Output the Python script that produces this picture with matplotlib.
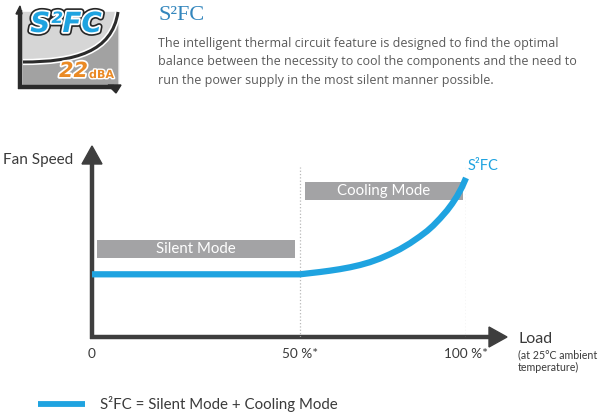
import matplotlib
matplotlib.use("Agg")
import matplotlib.pyplot as plt
import matplotlib.patheffects as pe
from matplotlib.patches import Polygon, Rectangle, PathPatch
from matplotlib.path import Path
from matplotlib.lines import Line2D
import numpy as np

# S²FC fan curve: relative fan speed (0-100) against PSU load (%)
load = [0, 50, 53.0, 56.0, 59.0, 62.0, 65.1, 68.1, 71.1, 74.1, 77.1, 80.1,
        83.1, 86.1, 88.3, 90.1, 92.2, 94.3, 95.8, 97.3, 98.8, 100]
fan_speed = [33, 33, 33.6, 34.2, 34.9, 35.7, 36.7, 37.9, 39.4, 41.3, 43.6, 46.2,
             49.3, 52.9, 55.8, 58.6, 62.4, 66.6, 70.1, 74.1, 78.9, 83.7]

tick_loads = [0, 50, 100]
tick_labels = ["0", "50 %*", "100 %*"]

mode_names = ["Silent Mode", "Cooling Mode"]
mode_load_from = [1.2, 51.5]
mode_load_to = [48.8, 99.0]
mode_speed_low = [41.6, 72.1]
mode_speed_high = [51.1, 81.6]

title = "S²FC"
paragraph = [
    "The intelligent thermal circuit feature is designed to find the optimal",
    "balance between the necessity to cool the components and the need to",
    "run the power supply in the most silent manner possible.",
]
legend_label = "S²FC = Silent Mode + Cooling Mode"

BLUE = "#1fa3e0"
GREY_BOX = "#a3a3a5"
AXIS = "#3e3e3e"
TEXT = "#3a3a3a"
CHART_FONT = "Lato"

W, H = 600, 415
fig = plt.figure(figsize=(6, 4.15), dpi=100)
fig.patch.set_facecolor("white")

# pixel-space layer for the header, logo and axis arrows
bg = fig.add_axes([0, 0, 1, 1])
bg.set_xlim(0, W)
bg.set_ylim(H, 0)
bg.axis("off")

# ---- logo badge -------------------------------------------------------
bg.add_patch(Rectangle((22, 12), 96, 75, color="#d6d6d6", zorder=1))
curve = Path([(23, 62), (75, 62), (112, 52), (118, 12)],
             [Path.MOVETO, Path.CURVE4, Path.CURVE4, Path.CURVE4])
under = Path([(23, 62), (75, 62), (112, 52), (118, 12), (118, 87), (23, 87), (23, 62)],
             [Path.MOVETO, Path.CURVE4, Path.CURVE4, Path.CURVE4,
              Path.LINETO, Path.LINETO, Path.CLOSEPOLY])
bg.add_patch(PathPatch(under, facecolor="#a2a2a2", edgecolor="none", zorder=2))
bg.add_patch(PathPatch(curve, facecolor="none", edgecolor="white", lw=4.5, zorder=3))
bg.add_patch(PathPatch(curve, facecolor="none", edgecolor="#2b2b2b", lw=2.2, zorder=4))
bg.plot([20, 20], [10, 89], color="#2b2b2b", lw=3.2, solid_capstyle="butt", zorder=5)
bg.add_patch(Polygon([(16, 14), (20, 6), (22, 14)], color="#2b2b2b", zorder=5))
bg.plot([18, 114], [87.5, 87.5], color="#2b2b2b", lw=3.2, solid_capstyle="butt", zorder=5)
bg.add_patch(Polygon([(108, 85), (121, 85), (116, 93)], color="#2b2b2b", zorder=5))
bg.text(66, 24, "S²FC", fontsize=20, fontweight="bold", style="italic",
        family="DejaVu Sans", color=BLUE, ha="center", va="center", zorder=6,
        path_effects=[pe.Stroke(linewidth=5, foreground="#262626"),
                      pe.Stroke(linewidth=2.6, foreground="white"), pe.Normal()])
bg.text(88, 71, "22", fontsize=15, fontweight="bold", style="italic",
        family="DejaVu Sans", color="#ea8a25", ha="right", va="center", zorder=6,
        path_effects=[pe.withStroke(linewidth=2.5, foreground="white")])
bg.text(89, 75, "dBA", fontsize=8, fontweight="bold",
        family="DejaVu Sans", color="#ea8a25", ha="left", va="center", zorder=6,
        path_effects=[pe.withStroke(linewidth=2, foreground="white")])

# ---- header text ------------------------------------------------------
bg.text(158, 15, title, fontsize=16, family="Liberation Serif", color="#3386bd",
        ha="left", va="center")
for i, line in enumerate(paragraph):
    bg.text(158, 43 + i * 18.7, line, fontsize=9.0, family="Open Sans",
            color="#5a5a5a", ha="left", va="center")

# ---- chart axes -------------------------------------------------------
x0, x1, ybot, ytop = 92, 466, 337, 147
ax = fig.add_axes([x0 / W, (H - ybot) / H, (x1 - x0) / W, (ybot - ytop) / H])
ax.patch.set_alpha(0)


def fwd(x):
    x = np.asarray(x, float)
    return np.where(x <= 50, x * 208 / 50, 208 + (x - 50) * 166 / 50)


def inv(p):
    p = np.asarray(p, float)
    return np.where(p <= 208, p * 50 / 208, 50 + (p - 208) * 50 / 166)


ax.set_xscale("function", functions=(fwd, inv))
ax.set_xlim(0, 100)
ax.set_ylim(0, 100)
for s in ax.spines.values():
    s.set_visible(False)
ax.set_yticks([])
ax.set_xticks(tick_loads, tick_labels)
ax.tick_params(axis="x", length=0, pad=8, labelsize=9.8, labelcolor=TEXT)
for lab in ax.get_xticklabels():
    lab.set_family(CHART_FONT)

# dotted guides at the mode boundary and full load
for xv in tick_loads[1:]:
    ax.axvline(xv, ymin=0, ymax=0.895, color="#b8b8b8", lw=0.9, ls=":", zorder=1)

# mode bands
for name, lo, hi, slo, shi in zip(mode_names, mode_load_from, mode_load_to,
                                  mode_speed_low, mode_speed_high):
    ax.add_patch(Rectangle((lo, slo), hi - lo, shi - slo, facecolor=GREY_BOX,
                           edgecolor="none", zorder=2))
    xm = inv((fwd(lo) + fwd(hi)) / 2)
    ax.text(float(xm), (slo + shi) / 2, name, ha="center", va="center",
            color="white", fontsize=10.8, family=CHART_FONT, zorder=3)

# fan curve
line, = ax.plot(load, fan_speed, color=BLUE, lw=4.5, solid_capstyle="butt",
                solid_joinstyle="round", clip_on=False, zorder=5)
ax.annotate("S²FC", xy=(load[-1], fan_speed[-1]), xytext=(1, 8.5),
            textcoords="offset points", ha="left", va="center", color=BLUE,
            fontsize=10.5, family=CHART_FONT)

# axis lines with arrowheads
bg.plot([x0, x0], [ybot + 2, ytop + 17], color=AXIS, lw=3.2, solid_capstyle="butt")
bg.add_patch(Polygon([(x0 - 10, ytop + 17), (x0 + 10, ytop + 17), (x0, ytop - 1)],
                     color=AXIS))
bg.plot([x0 - 2, 490], [ybot, ybot], color=AXIS, lw=3.2, solid_capstyle="butt")
bg.add_patch(Polygon([(489, ybot - 10), (489, ybot + 10), (507, ybot)], color=AXIS))

bg.text(73, 160, "Fan Speed", ha="right", va="center", fontsize=11,
        family=CHART_FONT, color=TEXT)
bg.text(518, 338.5, "Load", ha="left", va="center", fontsize=11.5,
        family=CHART_FONT, color=TEXT)
bg.text(518, 355, "(at 25°C ambient", ha="left", va="center", fontsize=7.7,
        family=CHART_FONT, color=TEXT)
bg.text(518, 367, "temperature)", ha="left", va="center", fontsize=7.7,
        family=CHART_FONT, color=TEXT)

# legend
fig.legend([Line2D([], [], color=BLUE, lw=4.2, solid_capstyle="butt")], [legend_label],
           loc="center left", bbox_to_anchor=(38 / W, (H - 404) / H), frameon=False,
           handlelength=3.1, handletextpad=1.0, borderpad=0, borderaxespad=0,
           prop={"family": CHART_FONT, "size": 10.8}, labelcolor=TEXT)

fig.savefig("out.png", dpi=100, facecolor="white")
